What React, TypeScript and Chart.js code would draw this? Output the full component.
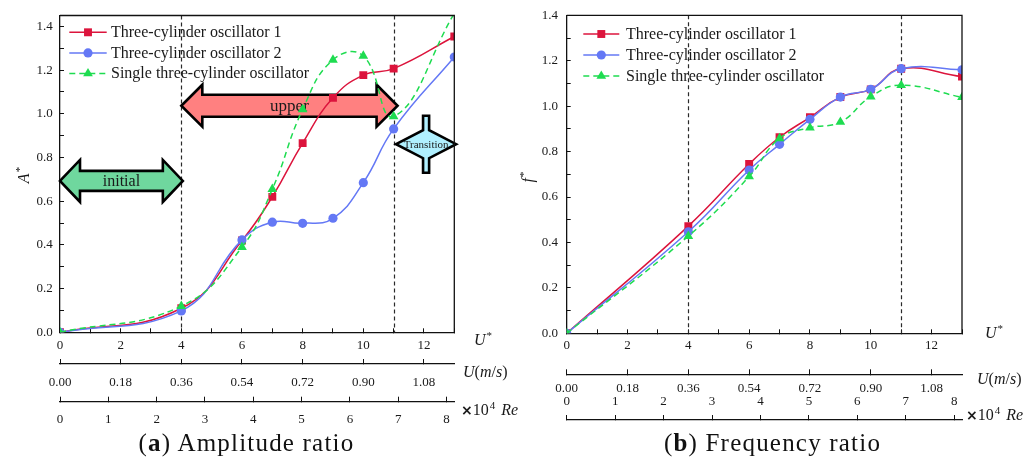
import React, { useEffect, useRef } from 'react';
import { Chart, registerables } from 'chart.js';

Chart.register(...registerables);

const SERIF = '"Liberation Serif", "Times New Roman", serif';
const AXIS_COLOR = '#111111';
const TEXT_COLOR = '#1a1a1a';

// ---- data -------------------------------------------------------------
// reduced velocity U* at which the tests were run
const U_STAR = [0, 4, 6, 7, 8, 9, 10, 11, 13];

// (a) amplitude ratio A*
const A_OSC1 = [0, 0.11, 0.42, 0.62, 0.866, 1.073, 1.177, 1.207, 1.354];
const A_OSC2 = [0, 0.098, 0.423, 0.504, 0.499, 0.522, 0.685, 0.931, 1.26];
const A_SINGLE = [0, 0.12, 0.39, 0.655, 1.02, 1.247, 1.265, 0.988, 1.46];

// (b) frequency ratio f*
const F_OSC1 = [0, 0.472, 0.745, 0.863, 0.951, 1.04, 1.074, 1.165, 1.13];
const F_OSC2 = [0, 0.447, 0.719, 0.832, 0.942, 1.04, 1.074, 1.165, 1.16];
const F_SINGLE = [0, 0.428, 0.69, 0.858, 0.905, 0.93, 1.042, 1.092, 1.039];

const SERIES_NAMES = [
  'Three-cylinder oscillator 1',
  'Three-cylinder oscillator 2',
  'Single three-cylinder oscillator',
];

// axis ranges / ticks
const U_STAR_MAX = 13;
const U_MS_MAX = 1.17;
const U_MS_STEP = 0.18;
const RE_MAX = 8.16;
const A_MAX = 1.45;
const F_MAX = 1.4;

// regime boundaries (dashed lines)
const REGIME_BOUNDS = [4, 11];

// ---- styles -----------------------------------------------------------
const COLORS = ['#DC143C', '#6478F5', '#1EDC50'];
const POINT_STYLES = ['rect', 'circle', 'triangle'];
const POINT_RADII = [5.6, 4.6, 5.6];
const DASHES = [[], [], [6, 4]];

// regime annotation arrows for panel (a)
const REGIME_ARROWS = [
  { label: 'initial', from: 0, to: 4.05, at: 0.693, fill: '#6FD79E', head: 20, headHalf: 21, shaftHalf: 10, font: 16 },
  { label: 'upper', from: 4.0, to: 11.13, at: 1.037, fill: '#FF8080', head: 21, headHalf: 21, shaftHalf: 11, font: 17 },
  { label: 'Transition', from: 11.08, to: 13.06, at: 0.861, fill: '#B0F0FF', head: 27, headHalf: 14, shaftHalf: 28.5, font: 11 },
];

const LEFT_PANEL = {
  series: [A_OSC1, A_OSC2, A_SINGLE],
  yMax: A_MAX,
  padding: { left: 0, right: 50.7, top: 15.5, bottom: 27.3 },
  yWidth: 60,
  yPad: 11.3,
  axisHeights: [31.7, 37.7, 30],
  axisPads: [9.6, 15.5, 15.5],
  reMirror: false,
  legend: { dx: 9.3, dy: 16.8, row: 20.6, len: 37.4, gap: 4.3 },
  arrows: REGIME_ARROWS,
};

const RIGHT_PANEL = {
  series: [F_OSC1, F_OSC2, F_SINGLE],
  yMax: F_MAX,
  padding: { left: 0, right: 73, top: 15.3, bottom: 29 },
  yWidth: 61.7,
  yPad: 12.7,
  axisHeights: [41, 45.7, 10],
  axisPads: [8.6, 11.9, 10.2],
  reMirror: true,
  legend: { dx: 16.6, dy: 18.7, row: 21, len: 36, gap: 6.7 },
  arrows: [],
};

function arrowPath(ctx, xa, xb, yc, head, headHalf, shaftHalf) {
  ctx.beginPath();
  ctx.moveTo(xa, yc);
  ctx.lineTo(xa + head, yc - headHalf);
  ctx.lineTo(xa + head, yc - shaftHalf);
  ctx.lineTo(xb - head, yc - shaftHalf);
  ctx.lineTo(xb - head, yc - headHalf);
  ctx.lineTo(xb, yc);
  ctx.lineTo(xb - head, yc + headHalf);
  ctx.lineTo(xb - head, yc + shaftHalf);
  ctx.lineTo(xa + head, yc + shaftHalf);
  ctx.lineTo(xa + head, yc + headHalf);
  ctx.closePath();
}

function drawMarker(ctx, style, x, y, r, color) {
  ctx.fillStyle = color;
  ctx.beginPath();
  if (style === 'rect') {
    const s = r * Math.SQRT1_2;
    ctx.rect(x - s, y - s, 2 * s, 2 * s);
  } else if (style === 'circle') {
    ctx.arc(x, y, r, 0, Math.PI * 2);
  } else {
    let rad = 0;
    ctx.moveTo(x + Math.sin(rad) * r, y - Math.cos(rad) * r);
    rad += (2 * Math.PI) / 3;
    ctx.lineTo(x + Math.sin(rad) * r, y - Math.cos(rad) * r);
    rad += (2 * Math.PI) / 3;
    ctx.lineTo(x + Math.sin(rad) * r, y - Math.cos(rad) * r);
    ctx.closePath();
  }
  ctx.fill();
}

function overlayPlugin(p) {
  return {
    id: 'overlay',
    beforeDatasetsDraw(chart) {
      const { ctx, chartArea: a, scales } = chart;
      const xs = scales.x;
      const ys = scales.y;
      ctx.save();
      ctx.strokeStyle = '#2a2a2a';
      ctx.lineWidth = 1.2;
      ctx.setLineDash([4, 3]);
      for (const v of REGIME_BOUNDS) {
        const px = Math.round(xs.getPixelForValue(v)) + 0.5;
        ctx.beginPath();
        ctx.moveTo(px, a.top);
        ctx.lineTo(px, a.bottom);
        ctx.stroke();
      }
      ctx.setLineDash([]);
      for (const ar of p.arrows) {
        const x1 = xs.getPixelForValue(ar.from);
        const x2 = xs.getPixelForValue(ar.to);
        const yc = ys.getPixelForValue(ar.at);
        arrowPath(ctx, x1, x2, yc, ar.head, ar.headHalf, ar.shaftHalf);
        ctx.fillStyle = ar.fill;
        ctx.fill();
        ctx.lineWidth = 2.6;
        ctx.lineJoin = 'miter';
        ctx.strokeStyle = '#000';
        ctx.stroke();
        ctx.fillStyle = TEXT_COLOR;
        ctx.font = `${ar.font}px ${SERIF}`;
        ctx.textAlign = 'center';
        ctx.textBaseline = 'middle';
        ctx.fillText(ar.label, (x1 + x2) / 2, yc + 0.5);
      }
      ctx.restore();
    },
    afterDatasetsDraw(chart) {
      const { ctx, chartArea: a } = chart;
      const L = p.legend;
      ctx.save();
      chart.data.datasets.forEach((ds, i) => {
        const y = a.top + L.dy + i * L.row;
        const x1 = a.left + L.dx;
        const x2 = x1 + L.len;
        ctx.strokeStyle = ds.borderColor;
        ctx.lineWidth = 1.5;
        ctx.setLineDash(ds.borderDash || []);
        ctx.beginPath();
        ctx.moveTo(x1, y);
        ctx.lineTo(x2, y);
        ctx.stroke();
        ctx.setLineDash([]);
        drawMarker(ctx, ds.pointStyle, (x1 + x2) / 2, y, ds.pointRadius, ds.pointBackgroundColor);
        ctx.fillStyle = TEXT_COLOR;
        ctx.font = `16px ${SERIF}`;
        ctx.textAlign = 'left';
        ctx.textBaseline = 'middle';
        ctx.fillText(ds.label, x2 + L.gap, y + 0.5);
      });
      ctx.restore();
    },
    afterDraw(chart) {
      const { ctx, chartArea: a } = chart;
      ctx.save();
      ctx.strokeStyle = AXIS_COLOR;
      ctx.lineWidth = 1.3;
      ctx.beginPath();
      ctx.moveTo(a.left, a.top);
      ctx.lineTo(a.right, a.top);
      ctx.lineTo(a.right, a.bottom);
      ctx.stroke();
      ctx.restore();
    },
  };
}

function buildConfig(p) {
  const font = { family: SERIF, size: 13, lineHeight: 1.2 };
  const grid = (len) => ({
    display: true,
    drawOnChartArea: false,
    drawTicks: true,
    tickLength: len,
    tickColor: AXIS_COLOR,
    tickWidth: 1,
  });
  const border = { display: true, color: AXIS_COLOR, width: 1.3 };
  const fitH = (h) => (s) => {
    s.height = h;
    s.paddingLeft = 0;
    s.paddingRight = 0;
  };
  const datasets = p.series.map((vals, i) => ({
    label: SERIES_NAMES[i],
    data: U_STAR.map((x, j) => ({ x, y: vals[j] })),
    borderColor: COLORS[i],
    backgroundColor: COLORS[i],
    borderWidth: 1.5,
    borderDash: DASHES[i],
    pointStyle: POINT_STYLES[i],
    pointRadius: POINT_RADII[i],
    pointBorderWidth: 0,
    pointBackgroundColor: COLORS[i],
    tension: 0.45,
    order: 2 - i,
  }));
  return {
    type: 'line',
    data: { datasets },
    plugins: [overlayPlugin(p)],
    options: {
      responsive: false,
      animation: false,
      events: [],
      layout: { padding: p.padding },
      plugins: { legend: { display: false }, tooltip: { enabled: false } },
      scales: {
        x: {
          type: 'linear',
          position: 'bottom',
          weight: 0,
          min: 0,
          max: U_STAR_MAX,
          afterFit: fitH(p.axisHeights[0]),
          border,
          grid: grid(-4),
          ticks: {
            stepSize: 1,
            autoSkip: false,
            maxRotation: 0,
            includeBounds: false,
            padding: p.axisPads[0],
            color: TEXT_COLOR,
            font,
            callback: (v) => (Math.round(v) % 2 === 0 ? String(Math.round(v)) : ''),
          },
        },
        xU: {
          type: 'linear',
          position: 'bottom',
          weight: 1,
          min: 0,
          max: U_MS_MAX,
          afterFit: fitH(p.axisHeights[1]),
          border,
          grid: grid(-5),
          ticks: {
            stepSize: U_MS_STEP,
            autoSkip: false,
            maxRotation: 0,
            includeBounds: false,
            padding: p.axisPads[1],
            color: TEXT_COLOR,
            font,
            callback: (v) => Number(v).toFixed(2),
          },
        },
        xRe: {
          type: 'linear',
          position: 'bottom',
          weight: 2,
          min: 0,
          max: RE_MAX,
          afterFit: fitH(p.axisHeights[2]),
          border,
          grid: grid(-5),
          ticks: {
            stepSize: 1,
            autoSkip: false,
            maxRotation: 0,
            includeBounds: false,
            mirror: p.reMirror,
            padding: p.axisPads[2],
            color: TEXT_COLOR,
            font,
            callback: (v) => String(Math.round(v)),
          },
        },
        y: {
          type: 'linear',
          position: 'left',
          min: 0,
          max: p.yMax,
          afterFit: (s) => {
            s.width = p.yWidth;
            s.paddingTop = 0;
            s.paddingBottom = 0;
          },
          border,
          grid: grid(-4),
          ticks: {
            stepSize: 0.1,
            autoSkip: false,
            includeBounds: false,
            padding: p.yPad,
            color: TEXT_COLOR,
            font,
            callback: (v) => (Math.round(v * 10) % 2 === 0 ? Number(v).toFixed(1) : ''),
          },
        },
      },
    },
  };
}

const abs = (style, children) => (
  <div
    style={{
      position: 'absolute',
      whiteSpace: 'nowrap',
      fontSize: 16,
      lineHeight: '18px',
      color: TEXT_COLOR,
      fontFamily: SERIF,
      ...style,
    }}
  >
    {children}
  </div>
);

const star = <span style={{ fontSize: 11, position: 'relative', top: -6, marginLeft: 1 }}>*</span>;
const sup4 = <span style={{ fontSize: 11, position: 'relative', top: -6, marginLeft: 1 }}>4</span>;

function ReLabel() {
  return (
    <>
      <span style={{ fontFamily: '"DejaVu Sans", sans-serif', fontWeight: 'bold', fontSize: 14 }}>×</span>
      10{sup4}
      <span style={{ marginLeft: 6 }}><i>Re</i></span>
    </>
  );
}

function UmsLabel() {
  return (
    <>
      <i>U</i>(<i>m</i>/<i>s</i>)
    </>
  );
}

export default function App() {
  const leftRef = useRef<HTMLCanvasElement>(null);
  const rightRef = useRef<HTMLCanvasElement>(null);

  useEffect(() => {
    const charts = [
      new Chart(leftRef.current as HTMLCanvasElement, buildConfig(LEFT_PANEL) as any),
      new Chart(rightRef.current as HTMLCanvasElement, buildConfig(RIGHT_PANEL) as any),
    ];
    return () => charts.forEach((c) => c.destroy());
  }, []);

  return (
    <div
      style={{
        position: 'fixed',
        left: 0,
        top: 0,
        width: 1035,
        height: 459,
        background: '#ffffff',
        overflow: 'hidden',
        fontFamily: SERIF,
      }}
    >
      <canvas ref={leftRef} width={505} height={459} style={{ position: 'absolute', left: 0, top: 0, display: 'block' }} />
      <canvas ref={rightRef} width={530} height={459} style={{ position: 'absolute', left: 505, top: 0, display: 'block' }} />

      {/* panel (a) axis names */}
      {abs({ left: 24, top: 175, transform: 'translate(-50%, -50%) rotate(-90deg)' }, <><i>A</i>{star}</>)}
      {abs({ left: 474, top: 331 }, <><i>U</i>{star}</>)}
      {abs({ left: 463, top: 363 }, <UmsLabel />)}
      {abs({ left: 461, top: 401 }, <ReLabel />)}

      {/* panel (b) axis names */}
      {abs({ left: 528, top: 177, transform: 'translate(-50%, -50%) rotate(-90deg)' }, <><i>f</i>{star}</>)}
      {abs({ left: 985, top: 324 }, <><i>U</i>{star}</>)}
      {abs({ left: 977, top: 370 }, <UmsLabel />)}
      {abs({ left: 966, top: 406 }, <ReLabel />)}

      {/* captions */}
      {abs(
        { left: 246.5, top: 443, transform: 'translate(-50%, -50%)', fontSize: 25, lineHeight: '30px', letterSpacing: 1.2, color: '#111' },
        <>(<b>a</b>) Amplitude ratio</>
      )}
      {abs(
        { left: 772.5, top: 443, transform: 'translate(-50%, -50%)', fontSize: 25, lineHeight: '30px', letterSpacing: 1.2, color: '#111' },
        <>(<b>b</b>) Frequency ratio</>
      )}
    </div>
  );
}
